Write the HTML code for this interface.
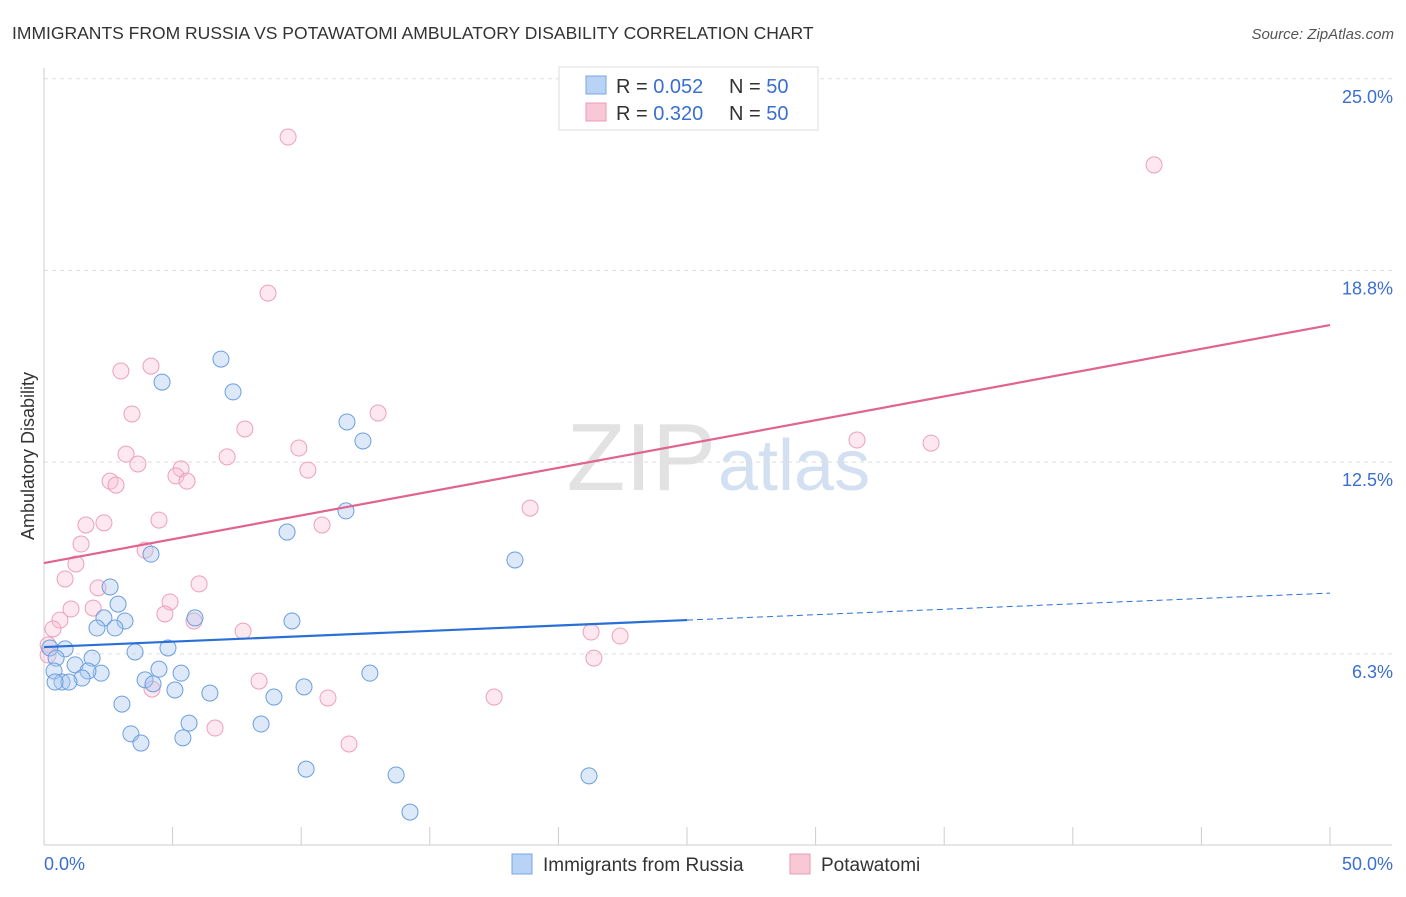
<!DOCTYPE html>
<html><head><meta charset="utf-8"><style>
body{margin:0;background:#fff;font-family:"Liberation Sans",sans-serif;}
svg text{font-family:"Liberation Sans",sans-serif;}
</style></head><body>
<svg id="chart" width="1406" height="892" xmlns="http://www.w3.org/2000/svg">
<text x="12" y="39" font-size="17.5" fill="#333">IMMIGRANTS FROM RUSSIA VS POTAWATOMI AMBULATORY DISABILITY CORRELATION CHART</text>
<text x="1394" y="39" font-size="15" fill="#555" text-anchor="end" font-style="italic">Source: ZipAtlas.com</text>
<text x="716" y="490" font-size="96" fill="#e2e2e2" text-anchor="end" font-family="Liberation Serif">ZIP</text>
<text x="718" y="490" font-size="72" fill="#d3e0f2">atlas</text>
<g id="grid"></g><g id="axes"></g><g id="marks"></g>
<text transform="translate(34,456) rotate(-90)" font-size="18" fill="#333" text-anchor="middle">Ambulatory Disability</text>
<g>
<rect x="559" y="67" width="259" height="63" fill="#fff" stroke="#ddd"/>
<rect x="586" y="76" width="20" height="18" fill="#b8d3f5" stroke="#7aa7e0"/>
<rect x="586" y="103" width="20" height="18" fill="#f9c8d7" stroke="#ec9ab5"/>
<text x="616" y="93" font-size="20" fill="#333">R =  <tspan fill="#3a6fd0">0.052</tspan></text>
<text x="729" y="93" font-size="20" fill="#333">N =  <tspan fill="#3a6fd0">50</tspan></text>
<text x="616" y="120" font-size="20" fill="#333">R =  <tspan fill="#3a6fd0">0.320</tspan></text>
<text x="729" y="120" font-size="20" fill="#333">N =  <tspan fill="#3a6fd0">50</tspan></text>
</g>
<g>
<rect x="512" y="854" width="20" height="20" fill="#b8d3f5" stroke="#7aa7e0"/>
<text x="543" y="871" font-size="19" fill="#333">Immigrants from Russia</text>
<rect x="790" y="854" width="20" height="20" fill="#f9c8d7" stroke="#ec9ab5"/>
<text x="821" y="871" font-size="19" fill="#333">Potawatomi</text>
</g>
</svg>
<script>
const yTicks=[6.25,12.5,18.75,25];
const yTickLabels=["6.3%","12.5%","18.8%","25.0%"];
const xTickLabels=["0.0%","50.0%"];
const russiaX=[6.88,4.59,7.35,11.78,12.40,11.74,9.45,4.16,18.31,2.57,2.88,2.33,3.15,5.87,9.64,2.06,2.76,4.82,3.54,0.82,0.23,0.47,1.87,1.21,4.47,5.33,2.22,1.71,0.39,1.48,0.70,0.97,0.43,3.93,4.24,5.09,6.45,10.11,12.67,8.94,3.03,5.64,8.44,3.38,5.40,3.77,10.19,13.69,21.19,14.23];
const russiaY=[15.86,15.11,14.79,13.81,13.19,10.91,10.22,9.50,9.31,8.43,7.87,7.42,7.32,7.42,7.32,7.09,7.09,6.44,6.31,6.41,6.44,6.11,6.11,5.89,5.75,5.62,5.62,5.69,5.69,5.46,5.33,5.33,5.33,5.40,5.27,5.07,4.97,5.17,5.62,4.84,4.61,3.99,3.96,3.64,3.51,3.34,2.49,2.30,2.27,1.09];
const potX=[9.49,43.16,8.71,4.16,2.99,3.42,12.99,7.81,9.91,31.61,34.49,3.19,3.65,5.33,7.12,5.13,5.56,2.57,2.80,10.26,18.90,4.47,1.63,2.33,10.81,1.44,3.93,1.24,0.82,6.03,2.10,4.90,1.05,1.91,4.70,0.62,5.83,0.35,7.74,21.27,22.40,0.16,21.38,8.36,4.20,17.50,11.04,6.65,11.86,0.16];
const potY=[23.10,22.19,18.01,15.63,15.47,14.07,14.10,13.58,12.96,13.22,13.12,12.76,12.44,12.28,12.67,12.05,11.88,11.88,11.75,12.24,11.00,10.61,10.45,10.52,10.45,9.83,9.63,9.18,8.69,8.53,8.40,7.94,7.71,7.74,7.55,7.35,7.32,7.06,6.99,6.96,6.83,6.54,6.11,5.36,5.10,4.84,4.81,3.83,3.31,6.21];
const russiaTrend=[6.47,8.23];
const potTrend=[9.21,16.97];
const NS="http://www.w3.org/2000/svg";
const X=v=>44+v/50*1286, Y=v=>845.5-v*30.67;
function mk(t,a,p){const e=document.createElementNS(NS,t);for(const k in a)e.setAttribute(k,a[k]);p.appendChild(e);return e;}
const grid=document.getElementById('grid'),axes=document.getElementById('axes'),marks=document.getElementById('marks');
yTicks.forEach((v,i)=>{
 const l=mk('line',{x1:44,x2:1392,y1:Y(v),y2:Y(v),stroke:'#ddd','stroke-dasharray':'4,4'},grid);
 
 
 const t=mk('text',{x:1393,y:Y(v)+24,'font-size':18,fill:'#3a6fd0','text-anchor':'end'},axes);
 t.textContent=yTickLabels[i];
 
 
});
const ax=mk('line',{x1:44,x2:44,y1:68,y2:845,stroke:'#ccc'},axes);


const bx=mk('line',{x1:44,x2:1392,y1:845,y2:845,stroke:'#ccc'},axes);


for(let i=0;i<=10;i++){const t=mk('line',{x1:X(i*5),x2:X(i*5),y1:827,y2:845,stroke:'#ccc'},axes);
 
 }
const xl0=mk('text',{x:44,y:870,'font-size':18,fill:'#3a6fd0'},axes);xl0.textContent=xTickLabels[0];


const xl1=mk('text',{x:1393,y:870,'font-size':18,fill:'#3a6fd0','text-anchor':'end'},axes);xl1.textContent=xTickLabels[1];


potX.forEach((x,i)=>{const c=mk('circle',{cx:X(x),cy:Y(potY[i]),r:8,fill:'rgba(248,190,210,0.35)',stroke:'#eca0bb','stroke-width':1},marks);
 
 });
russiaX.forEach((x,i)=>{const c=mk('circle',{cx:X(x),cy:Y(russiaY[i]),r:8,fill:'rgba(170,200,240,0.4)',stroke:'#6b9ee0','stroke-width':1},marks);
 
 });
const pt=mk('line',{x1:X(0),y1:Y(potTrend[0]),x2:X(50),y2:Y(potTrend[1]),stroke:'#e0648f','stroke-width':2.2},marks);


const rm=russiaTrend[0]+(russiaTrend[1]-russiaTrend[0])*0.5;
const rt=mk('line',{x1:X(0),y1:Y(russiaTrend[0]),x2:X(25),y2:Y(rm),stroke:'#2a6fd6','stroke-width':2.2},marks);


const rd=mk('line',{x1:X(25),y1:Y(rm),x2:X(50),y2:Y(russiaTrend[1]),stroke:'#2a6fd6','stroke-width':1,'stroke-dasharray':'6,4'},marks);


</script>
</body></html>
